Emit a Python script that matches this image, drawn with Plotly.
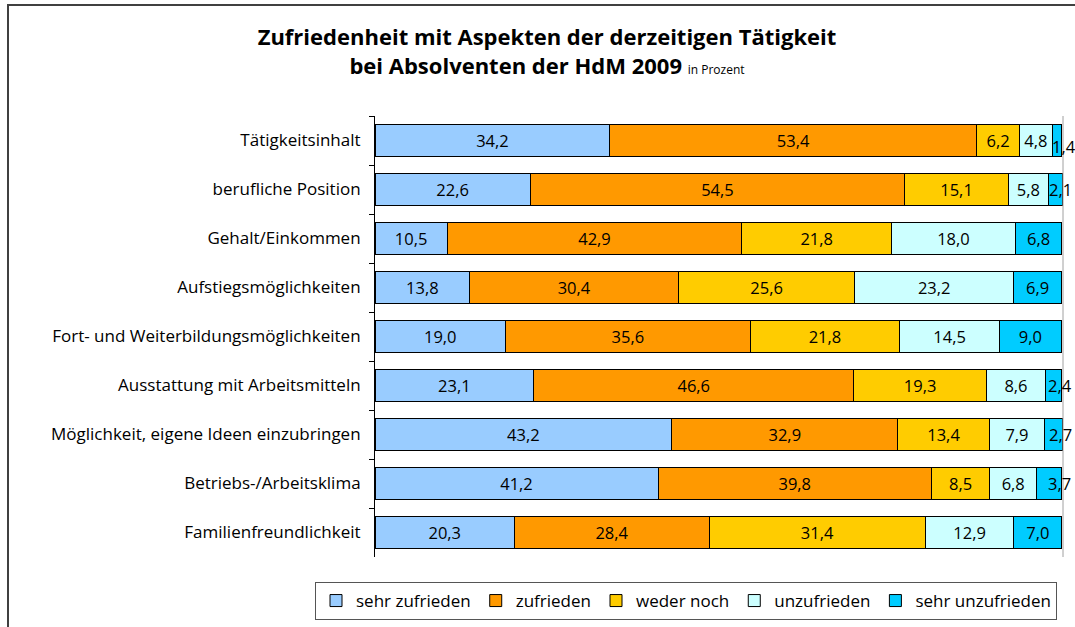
import plotly.graph_objects as go

categories = [
    "Tätigkeitsinhalt",
    "berufliche Position",
    "Gehalt/Einkommen",
    "Aufstiegsmöglichkeiten",
    "Fort- und Weiterbildungsmöglichkeiten",
    "Ausstattung mit Arbeitsmitteln",
    "Möglichkeit, eigene Ideen einzubringen",
    "Betriebs-/Arbeitsklima",
    "Familienfreundlichkeit",
]

sehr_zufrieden = [34.2, 22.6, 10.5, 13.8, 19.0, 23.1, 43.2, 41.2, 20.3]
zufrieden = [53.4, 54.5, 42.9, 30.4, 35.6, 46.6, 32.9, 39.8, 28.4]
weder_noch = [6.2, 15.1, 21.8, 25.6, 21.8, 19.3, 13.4, 8.5, 31.4]
unzufrieden = [4.8, 5.8, 18.0, 23.2, 14.5, 8.6, 7.9, 6.8, 12.9]
sehr_unzufrieden = [1.4, 2.1, 6.8, 6.9, 9.0, 2.4, 2.7, 3.7, 7.0]

series = [
    ("sehr zufrieden", sehr_zufrieden, "#99CCFF"),
    ("zufrieden", zufrieden, "#FF9900"),
    ("weder noch", weder_noch, "#FFCC00"),
    ("unzufrieden", unzufrieden, "#CCFFFF"),
    ("sehr unzufrieden", sehr_unzufrieden, "#00CCFF"),
]

FONT = "Open Sans"
LABEL_SIZE = 16.5
TICK_SIZE = 17
SMALL = 5.0  # segments narrower than this get their label just past the bar end

fig = go.Figure()
for idx, (name, vals, color) in enumerate(series):
    last = idx == len(series) - 1
    templates = ["" if (last and v < SMALL) else "%{x:.1f}" for v in vals]
    fig.add_trace(go.Bar(
        y=categories, x=vals, name=name, orientation="h",
        marker=dict(color=color, line=dict(color="black", width=1)),
        texttemplate=templates, textposition="inside",
        insidetextanchor="middle", textangle=0, constraintext="none",
        insidetextfont=dict(family=FONT, size=LABEL_SIZE, color="black"),
        cliponaxis=False, hoverinfo="skip",
    ))

# labels of the narrow end segments, placed at the segment end
for i, cat in enumerate(categories):
    v = sehr_unzufrieden[i]
    if v >= SMALL:
        continue
    end = sehr_zufrieden[i] + zufrieden[i] + weder_noch[i] + unzufrieden[i] + v
    crowded = unzufrieden[i] < SMALL
    fig.add_annotation(
        x=end, y=cat, xref="x", yref="y",
        text=f"{v:.1f}".replace(".", ","), showarrow=False,
        xanchor="center", yanchor="middle",
        xshift=2 if crowded else -2, yshift=-6 if crowded else 0,
        font=dict(family=FONT, size=LABEL_SIZE, color="black"),
    )

W, H = 1075, 627
L, R, T, B = 375, 12, 116, 70
pw, ph = W - L - R, H - T - B

def px_x(p):
    return (p - L) / pw

def px_y(p):
    return (H - B - p) / ph

fig.update_layout(
    width=W, height=H,
    margin=dict(l=L, r=R, t=T, b=B, autoexpand=False),
    barmode="stack", bargap=0.34,
    separators=",.",
    paper_bgcolor="white", plot_bgcolor="white",
    font=dict(family=FONT, size=LABEL_SIZE, color="black"),
    uniformtext=dict(minsize=LABEL_SIZE, mode="show"),
    title=dict(
        text="<b>Zufriedenheit mit Aspekten der derzeitigen Tätigkeit</b><br>"
             "<b>bei Absolventen der HdM 2009</b> <span style='font-size:12px'>in Prozent</span>",
        x=547 / W, xanchor="center", y=1 - 45 / H, yanchor="top",
        font=dict(family=FONT, size=22, color="black"),
    ),
    xaxis=dict(range=[0, 100.15], visible=False, fixedrange=True),
    yaxis=dict(
        autorange="reversed", showline=True, linecolor="black", linewidth=1,
        ticks="outside", tickson="boundaries", ticklen=5, tickcolor="black",
        showgrid=False, ticklabelstandoff=10,
        tickfont=dict(family=FONT, size=TICK_SIZE, color="black"),
    ),
    legend=dict(
        orientation="h", x=px_x(315), xanchor="left", y=px_y(582), yanchor="top",
        bordercolor="#555555", borderwidth=1, bgcolor="white",
        font=dict(family=FONT, size=TICK_SIZE, color="black"),
        traceorder="normal", itemclick=False, itemdoubleclick=False,
    ),
    showlegend=True,
)

# right edge of the plot area
fig.add_shape(type="line", xref="paper", yref="paper", x0=1, x1=1, y0=0, y1=1,
              line=dict(color="#A0A0A0", width=1))
# outer chart frame
fig.add_shape(type="rect", xref="paper", yref="paper",
              x0=px_x(8), x1=px_x(1090), y0=px_y(640), y1=px_y(5),
              line=dict(color="#404040", width=2), fillcolor="rgba(0,0,0,0)",
              layer="below")

fig.write_html("out.html")
